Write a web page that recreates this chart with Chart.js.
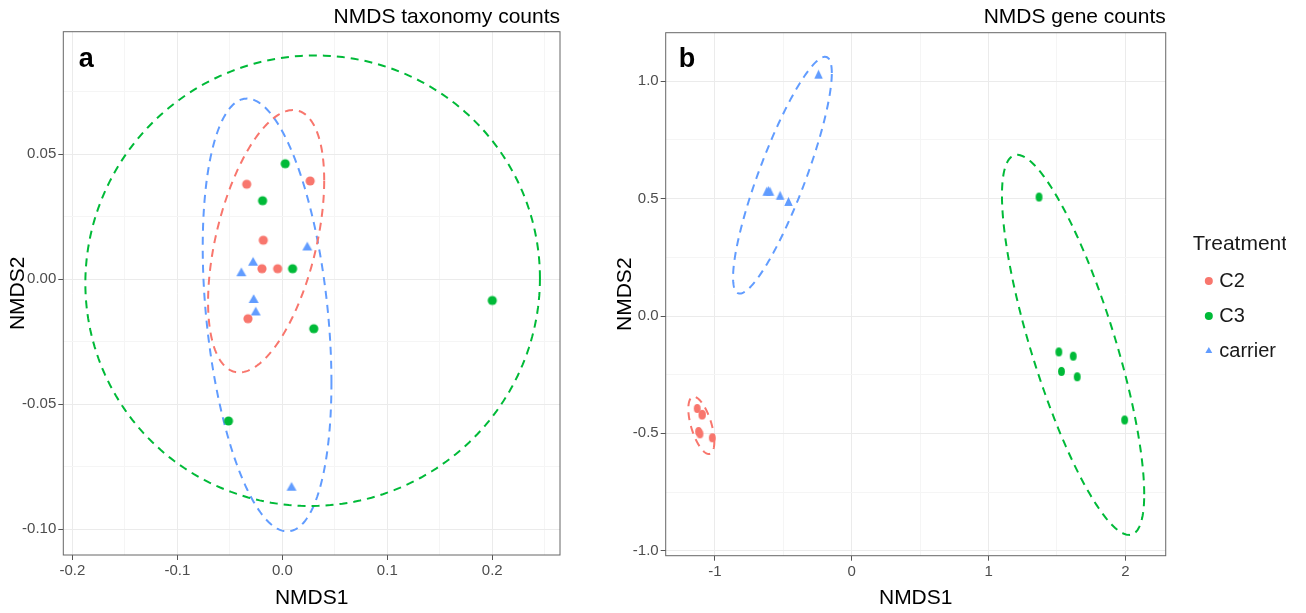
<!DOCTYPE html>
<html>
<head>
<meta charset="utf-8">
<script src="https://cdn.jsdelivr.net/npm/chart.js@4.4.1/dist/chart.umd.min.js"></script>
<style>
  html, body { margin: 0; padding: 0; background: #ffffff; }
  #wrap { position: relative; width: 1306px; height: 613px; overflow: hidden; background: #ffffff; }
  #chartA { position: absolute; left: 0; top: 0; }
  #chartB { position: absolute; left: 600px; top: 0; }
</style>
</head>
<body>
<div id="wrap">
  <canvas id="chartA" width="600" height="613"></canvas>
  <canvas id="chartB" width="706" height="613"></canvas>
</div>
<script>
// Treatment groups
const groups = ['C2', 'C3', 'carrier'];
const groupColors = ['#F8766D', '#00BA38', '#619CFF'];
const groupShapes = ['circle', 'circle', 'triangle'];

// Panel a: NMDS on taxonomy counts (sample scores)
const taxC2X = [-0.0339, 0.0265, -0.0181, -0.0194, -0.0044, -0.0327];
const taxC2Y = [0.0380, 0.0393, 0.0156, 0.0042, 0.0042, -0.0158];
const taxC3X = [0.0028, -0.0188, 0.0098, 0.0300, 0.2000, -0.0513];
const taxC3Y = [0.0462, 0.0314, 0.0042, -0.0198, -0.0085, -0.0567];
const taxCarrierX = [-0.0390, -0.0278, 0.0238, -0.0273, -0.0253, 0.0088];
const taxCarrierY = [0.0024, 0.0066, 0.0127, -0.0083, -0.0133, -0.0834];

// Panel a: group ellipses (centre, x half-width, y coupling, y spread) per group
const taxEllCX = [-0.0154, 0.0289, -0.0145];
const taxEllCY = [0.0152, -0.0006, -0.0143];
const taxEllA = [0.0553, 0.2165, 0.0613];
const taxEllK = [0.0243, 0.0010, -0.0271];
const taxEllM = [0.0465, 0.0901, 0.0822];

// Panel b: NMDS on gene counts (sample scores)
const geneC2X = [-1.130, -1.093, -1.120, -1.110, -1.020, -1.095];
const geneC2Y = [-0.394, -0.419, -0.492, -0.502, -0.519, -0.422];
const geneC3X = [1.369, 1.514, 1.619, 1.533, 1.648, 1.995];
const geneC3Y = [0.507, -0.153, -0.171, -0.236, -0.259, -0.443];
const geneCarrierX = [-0.243, -0.622, -0.598, -0.610, -0.524, -0.463];
const geneCarrierY = [1.024, 0.525, 0.525, 0.528, 0.508, 0.482];

// Panel b: group ellipses
const geneEllCX = [-1.100, 1.618, -0.507];
const geneEllCY = [-0.466, -0.123, 0.600];
const geneEllA = [0.095, 0.520, 0.361];
const geneEllK = [-0.0706, -0.6368, 0.435];
const geneEllM = [0.0995, 0.500, 0.255];

// Axis ranges and ticks
const taxXRange = [-0.2086, 0.2645];
const taxYRange = [-0.1103, 0.0990];
const taxXMajor = [-0.2, -0.1, 0, 0.1, 0.2];
const taxXMinor = [-0.15, -0.05, 0.05, 0.15, 0.25];
const taxYMajor = [-0.10, -0.05, 0, 0.05];
const taxYMinor = [-0.075, -0.025, 0.025, 0.075];

const geneXRange = [-1.3604, 2.2953];
const geneYRange = [-1.0213, 1.2071];
const geneXMajor = [-1, 0, 1, 2];
const geneXMinor = [-0.5, 0.5, 1.5];
const geneYMajor = [-1.0, -0.5, 0, 0.5, 1.0];
const geneYMinor = [-0.75, -0.25, 0.25, 0.75];

const textFamily = "'Liberation Sans', Arial, Helvetica, sans-serif";
const tickFamily = "'Liberation Sans Narrow', 'Arial Narrow', 'Liberation Sans', sans-serif";

function zip(xs, ys) { return xs.map((x, i) => ({ x: x, y: ys[i] })); }

// Outline of an ellipse: x = cx + a cos t, y = cy + k cos t + m sin t
function ellipseOutline(cx, cy, a, k, m) {
  const pts = [];
  const n = 240;
  for (let i = 0; i <= n; i++) {
    const t = 2 * Math.PI * i / n;
    pts.push({ x: cx + a * Math.cos(t), y: cy + k * Math.cos(t) + m * Math.sin(t) });
  }
  return pts;
}

// Small marker bitmaps (filled circle/ellipse or triangle)
function makeMarker(shape, color, w, h) {
  const c = document.createElement('canvas');
  const W = Math.ceil(w) + 2;
  const H = shape === 'triangle' ? Math.ceil(h * 4 / 3) + 2 : Math.ceil(h) + 2;
  c.width = W; c.height = H;
  const g = c.getContext('2d');
  g.fillStyle = color;
  g.beginPath();
  if (shape === 'triangle') {
    const cy = H / 2;
    g.moveTo(W / 2, cy - 2 * h / 3);
    g.lineTo(W / 2 + w / 2, cy + h / 3);
    g.lineTo(W / 2 - w / 2, cy + h / 3);
    g.closePath();
  } else {
    g.ellipse(W / 2, H / 2, w / 2, h / 2, 0, 0, 2 * Math.PI);
  }
  g.fill();
  return c;
}

function isMajor(v, majors) { return majors.some(m => Math.abs(m - v) < 1e-9); }

function makeAxis(pos, range, majors, minors, digits, title, size, titlePad) {
  const all = majors.concat(minors).sort((p, q) => p - q);
  return {
    type: 'linear',
    position: pos,
    min: range[0],
    max: range[1],
    afterBuildTicks: s => { s.ticks = all.map(v => ({ value: v })); },
    afterFit: s => { if (pos === 'bottom') { s.height = size; } else { s.width = size; } },
    ticks: {
      font: { family: tickFamily, size: 15 },
      color: '#4d4d4d',
      padding: 2,
      autoSkip: false,
      maxRotation: 0,
      minRotation: 0,
      callback: v => isMajor(v, majors) ? Number(v).toFixed(digits) : ''
    },
    grid: {
      color: c => (c.tick && isMajor(c.tick.value, majors)) ? '#ebebeb' : '#f5f5f5',
      lineWidth: 1,
      tickLength: 5,
      tickWidth: 1,
      tickColor: c => (c.tick && isMajor(c.tick.value, majors)) ? '#555555' : 'rgba(0,0,0,0)'
    },
    border: { display: false },
    title: {
      display: true,
      text: title,
      color: '#000000',
      font: { family: textFamily, size: 21, lineHeight: 1 },
      padding: titlePad
    }
  };
}

function buildDatasets(pts, ell, sizes) {
  const sets = [];
  for (let g = 0; g < 3; g++) {
    const shape = groupShapes[g];
    const sz = shape === 'triangle' ? sizes.tri : sizes.dot;
    sets.push({
      type: 'scatter',
      label: groups[g],
      data: zip(pts[g][0], pts[g][1]),
      pointStyle: makeMarker(shape, groupColors[g], sz[0], sz[1]),
      backgroundColor: groupColors[g],
      borderColor: groupColors[g],
      borderWidth: 0,
      pointRadius: 4
    });
  }
  for (let g = 0; g < 3; g++) {
    sets.push({
      type: 'scatter',
      label: groups[g] + ' ellipse',
      data: ellipseOutline(ell.cx[g], ell.cy[g], ell.a[g], ell.k[g], ell.m[g]),
      showLine: true,
      fill: false,
      tension: 0,
      pointRadius: 0,
      borderColor: groupColors[g],
      backgroundColor: groupColors[g],
      borderWidth: 2,
      borderDash: [8, 6],
      borderCapStyle: 'butt'
    });
  }
  return sets;
}

// Panel frame and panel letter
const panelFrame = {
  id: 'panelFrame',
  afterDatasetsDraw(chart, args, opts) {
    const { ctx, chartArea: a } = chart;
    ctx.save();
    ctx.strokeStyle = opts.color;
    ctx.lineWidth = 1;
    ctx.strokeRect(a.left, a.top, a.right - a.left, a.bottom - a.top);
    ctx.fillStyle = '#000000';
    ctx.font = 'bold 27px ' + textFamily;
    ctx.textBaseline = 'alphabetic';
    ctx.textAlign = 'left';
    ctx.fillText(opts.tag, a.left + opts.tagDx, a.top + opts.tagDy);
    ctx.restore();
  }
};

function titleOpts(text, padTop, padBottom) {
  return {
    display: true,
    text: text,
    align: 'end',
    fullSize: false,
    color: '#000000',
    font: { family: textFamily, size: 21, weight: 'normal', lineHeight: 1 },
    padding: { top: padTop, bottom: padBottom }
  };
}

// Panel a
new Chart(document.getElementById('chartA'), {
  type: 'scatter',
  data: {
    datasets: buildDatasets(
      [[taxC2X, taxC2Y], [taxC3X, taxC3Y], [taxCarrierX, taxCarrierY]],
      { cx: taxEllCX, cy: taxEllCY, a: taxEllA, k: taxEllK, m: taxEllM },
      { dot: [9.2, 9.2], tri: [10, 8.7] }
    )
  },
  options: {
    responsive: false,
    devicePixelRatio: 1,
    animation: false,
    events: [],
    layout: { padding: { left: 0, right: 40, top: 0, bottom: 0 } },
    scales: {
      x: makeAxis('bottom', taxXRange, taxXMajor, taxXMinor, 1, 'NMDS1', 58, { top: 0, bottom: 4 }),
      y: makeAxis('left', taxYRange, taxYMajor, taxYMinor, 2, 'NMDS2', 63.3, { top: 7.8, bottom: 0 })
    },
    plugins: {
      legend: { display: false },
      tooltip: { enabled: false },
      title: titleOpts('NMDS taxonomy counts', 7.1, 3.6),
      panelFrame: { color: '#666666', tag: 'a', tagDx: 15.5, tagDy: 35 }
    }
  },
  plugins: [panelFrame]
});

// Panel b
const axesB = {
  x: makeAxis('bottom', geneXRange, geneXMajor, geneXMinor, 0, 'NMDS1', 57.3, { top: 0, bottom: 4 }),
  y: makeAxis('left', geneYRange, geneYMajor, geneYMinor, 1, 'NMDS2', 65.7, { top: 14.5, bottom: 0 }),
  // spacer between the plot panel and the legend
  gap: {
    type: 'linear',
    position: 'right',
    display: true,
    grid: { display: false },
    border: { display: false },
    ticks: { display: false },
    title: { display: false },
    afterFit: s => { s.width = 27.6; }
  }
};

new Chart(document.getElementById('chartB'), {
  type: 'scatter',
  data: {
    datasets: buildDatasets(
      [[geneC2X, geneC2Y], [geneC3X, geneC3Y], [geneCarrierX, geneCarrierY]],
      { cx: geneEllCX, cy: geneEllCY, a: geneEllA, k: geneEllK, m: geneEllM },
      { dot: [6.8, 9], tri: [8.5, 9] }
    )
  },
  options: {
    responsive: false,
    devicePixelRatio: 1,
    animation: false,
    events: [],
    layout: { padding: { left: 0, right: 20, top: 0, bottom: 0 } },
    scales: axesB,
    plugins: {
      tooltip: { enabled: false },
      title: titleOpts('NMDS gene counts', 7.1, 4.6),
      legend: {
        display: true,
        position: 'right',
        align: 'start',
        labels: {
          usePointStyle: true,
          boxWidth: 1,
          boxHeight: 5.66,
          padding: 15,
          color: '#1a1a1a',
          font: { family: textFamily, size: 20, lineHeight: 1 },
          filter: item => item.datasetIndex < 3,
          generateLabels: chart => Chart.defaults.plugins.legend.labels.generateLabels(chart).map(it => Object.assign({}, it, {
            pointStyle: groupShapes[it.datasetIndex] || 'circle',
            fillStyle: groupColors[it.datasetIndex] || '#000',
            strokeStyle: groupColors[it.datasetIndex] || '#000',
            lineWidth: 0,
            lineDash: []
          }))
        },
        title: {
          display: true,
          text: 'Treatment',
          color: '#1a1a1a',
          font: { family: textFamily, size: 21, lineHeight: 1 },
          padding: { top: 233.5, bottom: 1.5 }
        }
      },
      panelFrame: { color: '#666666', tag: 'b', tagDx: 13, tagDy: 34 }
    }
  },
  plugins: [panelFrame]
});
</script>
</body>
</html>
